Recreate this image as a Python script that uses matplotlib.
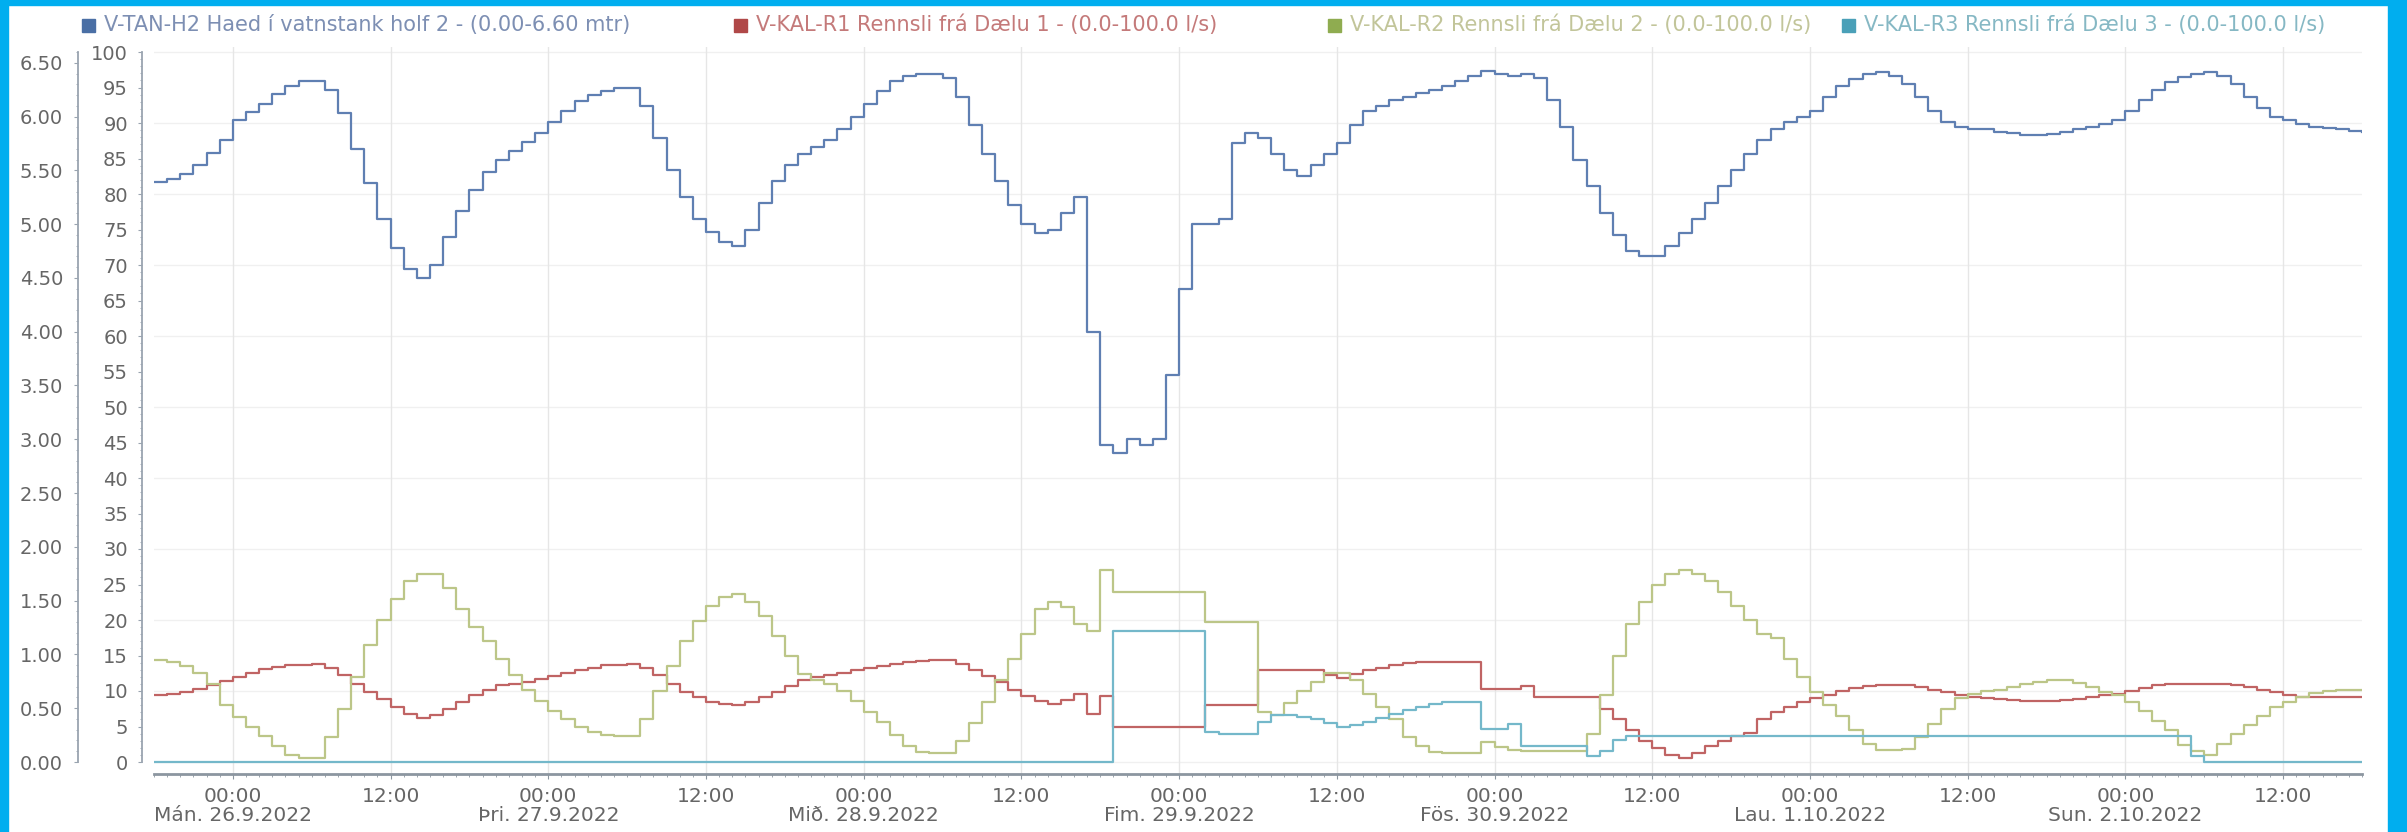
import matplotlib
matplotlib.use("Agg")
import matplotlib.pyplot as plt
import matplotlib.dates as mdates
import numpy as np
import pandas as pd
from matplotlib.ticker import FixedLocator, FuncFormatter
from matplotlib.patches import Rectangle

plt.rcParams['font.family'] = ['DejaVu Sans']

# ---------------- data (hourly, from 25.9.2022 18:00) ----------------
start = "2022-09-25 18:00"
n_hours = 169

tank_mtr = [
    5.39, 5.42, 5.47, 5.55, 5.66, 5.78, 5.97, 6.04, 6.12, 6.21,
    6.28, 6.33, 6.33, 6.25, 6.03, 5.70, 5.38, 5.05, 4.78, 4.58,
    4.50, 4.62, 4.88, 5.12, 5.32, 5.48, 5.60, 5.68, 5.76, 5.85,
    5.95, 6.05, 6.14, 6.20, 6.24, 6.27, 6.27, 6.10, 5.80, 5.50,
    5.25, 5.05, 4.93, 4.83, 4.80, 4.95, 5.20, 5.40, 5.55, 5.65,
    5.72, 5.78, 5.88, 6.00, 6.12, 6.24, 6.33, 6.38, 6.40, 6.40,
    6.36, 6.18, 5.92, 5.65, 5.40, 5.18, 5.00, 4.92, 4.95, 5.10,
    5.25, 4.00, 2.95, 2.87, 3.00, 2.95, 3.00, 3.60, 4.40, 5.00,
    5.00, 5.05, 5.75, 5.85, 5.80, 5.65, 5.50, 5.45, 5.55, 5.65,
    5.75, 5.92, 6.05, 6.10, 6.15, 6.18, 6.22, 6.25, 6.28, 6.33,
    6.38, 6.42, 6.40, 6.38, 6.40, 6.36, 6.15, 5.90, 5.60, 5.35,
    5.10, 4.90, 4.75, 4.70, 4.70, 4.80, 4.92, 5.05, 5.20, 5.35,
    5.50, 5.65, 5.78, 5.88, 5.95, 6.00, 6.05, 6.18, 6.28, 6.35,
    6.40, 6.41, 6.38, 6.30, 6.18, 6.05, 5.95, 5.90, 5.88, 5.88,
    5.86, 5.85, 5.83, 5.83, 5.84, 5.86, 5.88, 5.90, 5.93, 5.97,
    6.05, 6.15, 6.25, 6.32, 6.37, 6.40, 6.41, 6.38, 6.30, 6.18,
    6.08, 6.00, 5.97, 5.93, 5.90, 5.89, 5.88, 5.87, 5.86,
]

flow_r1 = [
    9.4, 9.6, 9.9, 10.3, 10.8, 11.4, 12.0, 12.6, 13.1, 13.4,
    13.6, 13.7, 13.8, 13.2, 12.2, 11.0, 9.9, 8.9, 7.7, 6.7,
    6.2, 6.6, 7.5, 8.5, 9.5, 10.2, 10.8, 11.0, 11.3, 11.7,
    12.1, 12.5, 12.9, 13.3, 13.6, 13.7, 13.8, 13.3, 12.2, 11.0,
    9.9, 9.1, 8.5, 8.1, 8.0, 8.4, 9.1, 9.9, 10.7, 11.5,
    12.0, 12.3, 12.6, 12.9, 13.2, 13.5, 13.8, 14.1, 14.2, 14.3,
    14.3, 13.8, 13.0, 12.1, 11.2, 10.2, 9.3, 8.6, 8.2, 8.7,
    9.6, 6.8, 9.3, 4.9, 4.9, 4.9, 4.9, 4.9, 4.9, 4.9,
    8.0, 8.0, 8.0, 8.0, 12.9, 12.9, 12.9, 12.9, 12.9, 12.3,
    11.8, 12.4, 12.9, 13.3, 13.6, 13.9, 14.1, 14.1, 14.1, 14.1,
    14.1, 10.3, 10.3, 10.3, 10.7, 9.2, 9.2, 9.2, 9.2, 9.2,
    7.5, 6.0, 4.5, 3.0, 2.0, 1.0, 0.6, 1.3, 2.2, 3.0,
    3.6, 4.1, 6.0, 7.0, 7.8, 8.4, 9.0, 9.5, 10.0, 10.4,
    10.7, 10.9, 10.9, 10.8, 10.6, 10.2, 9.8, 9.4, 9.2, 9.0,
    8.9, 8.8, 8.6, 8.6, 8.6, 8.7, 8.9, 9.2, 9.4, 9.6,
    10.0, 10.4, 10.8, 11.0, 11.0, 11.0, 11.0, 11.0, 10.9, 10.6,
    10.2, 9.8, 9.4, 9.2, 9.2, 9.2, 9.2, 9.2, 9.2,
]

flow_r2 = [
    14.3, 14.1, 13.5, 12.5, 11.0, 8.0, 6.3, 5.0, 3.6, 2.2,
    1.0, 0.5, 0.5, 3.5, 7.5, 12.0, 16.5, 20.0, 23.0, 25.5,
    26.5, 26.5, 24.5, 21.5, 19.0, 17.0, 14.5, 12.2, 10.2, 8.6,
    7.2, 6.0, 5.0, 4.2, 3.8, 3.7, 3.7, 6.0, 10.0, 13.5,
    17.0, 19.8, 22.0, 23.3, 23.6, 22.5, 20.5, 17.8, 15.0, 12.4,
    11.6, 11.0, 10.0, 8.6, 7.0, 5.6, 3.8, 2.2, 1.4, 1.2,
    1.2, 3.0, 5.5, 8.5, 11.5, 14.5, 18.0, 21.5, 22.5, 21.8,
    19.5, 18.5, 27.0, 24.0, 24.0, 24.0, 24.0, 24.0, 24.0, 24.0,
    19.7, 19.7, 19.7, 19.7, 7.0, 6.6, 8.3, 10.0, 11.3, 12.5,
    12.6, 11.5, 9.6, 7.8, 6.0, 3.5, 2.2, 1.4, 1.2, 1.2,
    1.2, 2.8, 2.1, 1.7, 1.6, 1.6, 1.6, 1.6, 1.6, 4.0,
    9.5, 15.0, 19.5, 22.5, 25.0, 26.5, 27.0, 26.5, 25.5, 24.0,
    22.0, 20.0, 18.0, 17.5, 14.5, 12.0, 9.8, 8.0, 6.5, 4.5,
    2.5, 1.7, 1.7, 1.9, 3.5, 5.4, 7.5, 9.0, 9.6, 10.0,
    10.1, 10.5, 11.0, 11.3, 11.6, 11.6, 11.1, 10.5, 9.9, 9.4,
    8.5, 7.2, 5.8, 4.5, 2.4, 1.5, 1.0, 2.5, 4.0, 5.2,
    6.5, 7.8, 8.5, 9.2, 9.7, 10.0, 10.1, 10.2, 10.2,
]

flow_r3 = (
    [0.0] * 73 +
    [18.5, 18.5, 18.5, 18.5, 18.5, 18.5, 18.5,
     4.2, 4.0, 4.0, 4.0, 5.6, 6.6, 6.6, 6.4, 6.0,
     5.5, 5.0, 5.2, 5.6, 6.2, 6.8, 7.3, 7.8, 8.2, 8.5,
     8.5, 8.5, 4.7, 4.7, 5.4, 2.3, 2.3, 2.3, 2.3, 2.3,
     0.9, 1.5, 3.1, 3.6] +
    [3.6] * 42 +
    [0.8] + [0.0] * 13
)

series_names = [
    "V-TAN-H2 Haed í vatnstank holf 2 - (0.00-6.60 mtr)",
    "V-KAL-R1 Rennsli frá Dælu 1 - (0.0-100.0 l/s)",
    "V-KAL-R2 Rennsli frá Dælu 2 - (0.0-100.0 l/s)",
    "V-KAL-R3 Rennsli frá Dælu 3 - (0.0-100.0 l/s)",
]
day_labels = ["Mán. 26.9.2022", "Þri. 27.9.2022", "Mið. 28.9.2022",
              "Fim. 29.9.2022", "Fös. 30.9.2022", "Lau. 1.10.2022",
              "Sun. 2.10.2022"]
day_dates = ["2022-09-26", "2022-09-27", "2022-09-28", "2022-09-29",
             "2022-09-30", "2022-10-01", "2022-10-02"]

# ---------------- styling ----------------
line_colors = ["#5f7fb2", "#c06464", "#bcc688", "#74b8ca"]
square_colors = ["#4a6fa5", "#b04848", "#8fac50", "#4aa0b8"]
text_colors = ["#7d8fb3", "#c47a7a", "#c2c59a", "#86b8c4"]
tick_color = "#666666"
axis_color = "#9aa4b0"

W, H = 2407, 832
PT = 72.0 / 100.0   # points per pixel at dpi 100
fig = plt.figure(figsize=(W / 100, H / 100), dpi=100)
fig.patch.set_facecolor("white")

border = "#00AEEF"
fig.patches.append(Rectangle((0, 0), 8 / W, 1, transform=fig.transFigure,
                             color=border, zorder=0))
fig.patches.append(Rectangle((0, 1 - 5 / H), 1, 5 / H, transform=fig.transFigure,
                             color=border, zorder=0))
fig.patches.append(Rectangle((2388 / W, 0), 1 - 2388 / W, 1, transform=fig.transFigure,
                             color=border, zorder=0))

px_per_unit = 7.1
y_bot = -12 / px_per_unit
y_top = (762 - 47) / px_per_unit
ax = fig.add_axes([154 / W, (H - 774) / H, (2362 - 154) / W, (774 - 47) / H])
ax.set_facecolor("none")

times = pd.date_range(start, periods=n_hours, freq="h")
ax.plot(times, flow_r1, drawstyle="steps-post", color=line_colors[1], lw=1.6, zorder=3)
ax.plot(times, flow_r2, drawstyle="steps-post", color=line_colors[2], lw=1.6, zorder=3)
ax.plot(times, flow_r3, drawstyle="steps-post", color=line_colors[3], lw=1.6, zorder=3)
ax.set_ylim(y_bot, y_top)
ax.set_xlim(times[0], times[-1])

ax2 = ax.twinx()
ax2.plot(times, tank_mtr, drawstyle="steps-post", color=line_colors[0], lw=1.6, zorder=3)
ax2.set_ylim(y_bot * 0.066, y_top * 0.066)
ax2.set_xlim(times[0], times[-1])

# spines
for a in (ax, ax2):
    a.spines["top"].set_visible(False)
    a.spines["right"].set_visible(False)
ax2.spines["bottom"].set_visible(False)
ax.spines["bottom"].set_color("#8c96a0")
ax.spines["bottom"].set_linewidth(2.0)
ax.spines["left"].set_position(("outward", 12 * PT))
ax.spines["left"].set_bounds(0, 100)
ax.spines["left"].set_color(axis_color)
ax.spines["left"].set_linewidth(1.3)
ax2.spines["left"].set_visible(True)
ax2.spines["left"].set_position(("outward", 76 * PT))
ax2.spines["left"].set_bounds(0, 6.6)
ax2.spines["left"].set_color(axis_color)
ax2.spines["left"].set_linewidth(1.3)
ax2.yaxis.set_ticks_position("left")
ax2.yaxis.set_label_position("left")

# y ticks
ax.yaxis.set_major_locator(FixedLocator(list(range(0, 101, 5))))
ax.yaxis.set_minor_locator(FixedLocator(list(np.arange(0, 100.01, 1.0))))
ax.tick_params(axis="y", which="major", length=4 * PT, color=axis_color, labelsize=14,
               labelcolor=tick_color, pad=10 * PT)
ax.tick_params(axis="y", which="minor", length=2 * PT, color=axis_color)
ax2.yaxis.set_major_locator(FixedLocator(list(np.arange(0, 6.51, 0.5))))
ax2.yaxis.set_minor_locator(FixedLocator(list(np.arange(0, 6.61, 0.1))))
ax2.yaxis.set_major_formatter(FuncFormatter(lambda v, p: f"{v:.2f}"))
ax2.tick_params(axis="y", which="major", length=4 * PT, color=axis_color, labelsize=14,
                labelcolor=tick_color, pad=11 * PT)
ax2.tick_params(axis="y", which="minor", length=2 * PT, color=axis_color)

# x ticks
day_map = {pd.Timestamp(d).date(): lab for d, lab in zip(day_dates, day_labels)}


def xfmt(v, pos):
    t = mdates.num2date(v).replace(tzinfo=None)
    if t.hour == 0:
        return "00:00\n" + day_map.get(t.date(), "")
    return f"{t.hour:02d}:00"


ax.xaxis.set_major_locator(mdates.HourLocator(byhour=[0, 12]))
ax.xaxis.set_minor_locator(mdates.HourLocator())
ax.xaxis.set_major_formatter(FuncFormatter(xfmt))
ax.tick_params(axis="x", which="major", length=5 * PT, color="#8c96a0", labelsize=14.5,
               labelcolor=tick_color, pad=8 * PT)
ax.tick_params(axis="x", which="minor", length=3 * PT, color="#8c96a0")
for lab in ax.get_xticklabels():
    lab.set_linespacing(1.0)

# grid
ax.grid(True, axis="x", which="major", color="#e6e6e6", lw=1.0, zorder=0)
ax.set_axisbelow(True)
for v in range(0, 101, 10):
    ax.axhline(v, color="#f0f0f0", lw=1.0, zorder=0)

# legend (manual placement)
sq_x = [82, 734, 1328, 1842]
for i, name in enumerate(series_names):
    fig.patches.append(Rectangle((sq_x[i] / W, 1 - 32 / H), 13 / W, 13 / H,
                                 transform=fig.transFigure, color=square_colors[i]))
    fig.text((sq_x[i] + 22) / W, 1 - 25 / H, name, color=text_colors[i],
             fontsize=15, va="center", ha="left")

fig.savefig("out.png", dpi=100, facecolor="white")
